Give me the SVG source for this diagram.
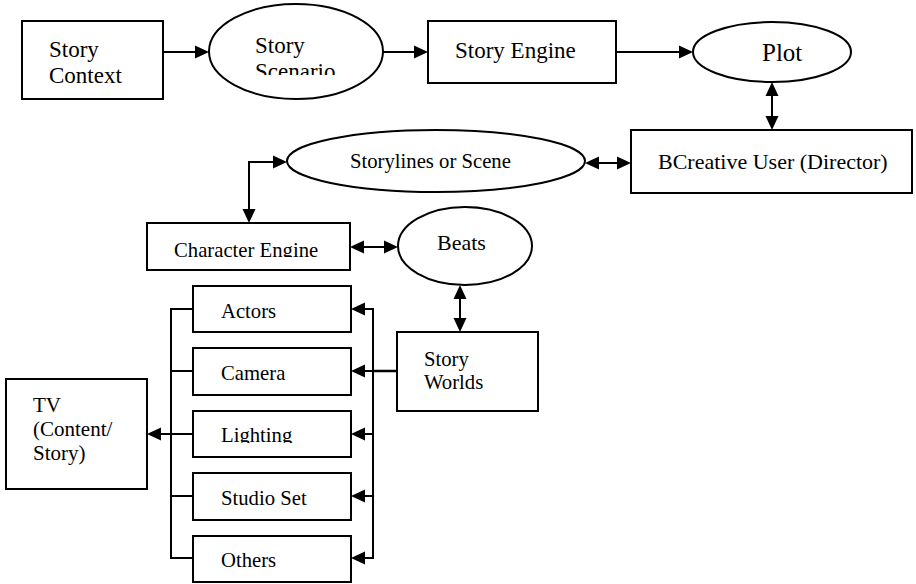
<svg xmlns="http://www.w3.org/2000/svg" width="916" height="584" viewBox="0 0 916 584">
<style>
.box{fill:#fff;stroke:#000;stroke-width:2}
.ell{fill:#fff;stroke:#000;stroke-width:2}
.lbl{font-family:"Liberation Serif",serif;fill:#000}
.ln{fill:none;stroke:#000;stroke-width:2}
.hd{fill:#000;stroke:none}
</style>
<defs>
<path id="arw" d="M0,0 L-14,-6.5 L-14,6.5 z"/>
<clipPath id="cScen"><rect x="200" y="0" width="200" height="75"/></clipPath>
<clipPath id="cChar"><rect x="140" y="220" width="220" height="37"/></clipPath>
<clipPath id="cLight"><rect x="190" y="405" width="170" height="38"/></clipPath>
</defs>

<g id="connectors">
<line class="ln" x1="163" y1="52" x2="203" y2="52"/>
<use class="hd" href="#arw" transform="translate(209,52)"/>
<line class="ln" x1="383" y1="52" x2="422" y2="52"/>
<use class="hd" href="#arw" transform="translate(428,52)"/>
<line class="ln" x1="616" y1="52" x2="687" y2="52"/>
<use class="hd" href="#arw" transform="translate(693,52)"/>
<line class="ln" x1="772" y1="88" x2="772" y2="124"/>
<use class="hd" href="#arw" transform="translate(772,82) rotate(-90)"/>
<use class="hd" href="#arw" transform="translate(772,130) rotate(90)"/>
<line class="ln" x1="591" y1="163" x2="625" y2="163"/>
<use class="hd" href="#arw" transform="translate(585,163) rotate(180)"/>
<use class="hd" href="#arw" transform="translate(631,163)"/>
<path class="ln" d="M281,162 H249 V217"/>
<use class="hd" href="#arw" transform="translate(287,162)"/>
<use class="hd" href="#arw" transform="translate(249,223) rotate(90)"/>
<line class="ln" x1="356" y1="247" x2="392" y2="247"/>
<use class="hd" href="#arw" transform="translate(350,247) rotate(180)"/>
<use class="hd" href="#arw" transform="translate(398,247)"/>
<line class="ln" x1="460" y1="291" x2="460" y2="326"/>
<use class="hd" href="#arw" transform="translate(460,285) rotate(-90)"/>
<use class="hd" href="#arw" transform="translate(460,332) rotate(90)"/>
<line class="ln" x1="397" y1="371" x2="373" y2="371" style="stroke-width:2.5"/>
<line class="ln" x1="373" y1="308" x2="373" y2="559"/>
<line class="ln" x1="373" y1="309" x2="357" y2="309"/>
<line class="ln" x1="373" y1="371" x2="357" y2="371"/>
<line class="ln" x1="373" y1="434" x2="357" y2="434"/>
<line class="ln" x1="373" y1="496" x2="357" y2="496"/>
<line class="ln" x1="373" y1="558" x2="357" y2="558"/>
<use class="hd" href="#arw" transform="translate(351,309) rotate(180)"/>
<use class="hd" href="#arw" transform="translate(351,371) rotate(180)"/>
<use class="hd" href="#arw" transform="translate(351,434) rotate(180)"/>
<use class="hd" href="#arw" transform="translate(351,496) rotate(180)"/>
<use class="hd" href="#arw" transform="translate(351,558) rotate(180)"/>
<line class="ln" x1="171" y1="308" x2="171" y2="559"/>
<line class="ln" x1="171" y1="309" x2="193" y2="309"/>
<line class="ln" x1="171" y1="371" x2="193" y2="371"/>
<line class="ln" x1="171" y1="434" x2="193" y2="434"/>
<line class="ln" x1="171" y1="496" x2="193" y2="496"/>
<line class="ln" x1="171" y1="558" x2="193" y2="558"/>
<line class="ln" x1="171" y1="434" x2="153" y2="434"/>
<use class="hd" href="#arw" transform="translate(147,434) rotate(180)"/>
</g>

<g id="story-context">
<rect class="box" x="22" y="21" width="141" height="78"/>
<text class="lbl" font-family="Liberation Serif, serif" x="49" y="57" font-size="23">Story</text>
<text class="lbl" font-family="Liberation Serif, serif" x="49" y="83" font-size="23">Context</text>
</g>
<g id="story-scenario">
<ellipse class="ell" cx="296" cy="51.5" rx="87" ry="47.5"/>
<text class="lbl" font-family="Liberation Serif, serif" x="255" y="53" font-size="23">Story</text>
<text class="lbl" font-family="Liberation Serif, serif" x="255" y="79" font-size="23" clip-path="url(#cScen)">Scenario</text>
</g>
<g id="story-engine">
<rect class="box" x="428" y="21" width="188" height="62"/>
<text class="lbl" font-family="Liberation Serif, serif" x="455" y="58" font-size="23">Story Engine</text>
</g>
<g id="plot">
<ellipse class="ell" cx="772" cy="52" rx="79" ry="30"/>
<text class="lbl" font-family="Liberation Serif, serif" x="762" y="61" font-size="25">Plot</text>
</g>
<g id="bcreative-user">
<rect class="box" x="631" y="130" width="281" height="63"/>
<text class="lbl" font-family="Liberation Serif, serif" x="658" y="169" font-size="22">BCreative User (Director)</text>
</g>
<g id="storylines">
<ellipse class="ell" cx="436" cy="161" rx="149" ry="31"/>
<text class="lbl" font-family="Liberation Serif, serif" x="350" y="168" font-size="20.7">Storylines or Scene</text>
</g>
<g id="character-engine">
<rect class="box" x="147" y="223" width="203" height="47"/>
<text class="lbl" font-family="Liberation Serif, serif" x="174" y="257" font-size="20.7" clip-path="url(#cChar)">Character Engine</text>
</g>
<g id="beats">
<ellipse class="ell" cx="465" cy="246" rx="67" ry="39"/>
<text class="lbl" font-family="Liberation Serif, serif" x="437" y="250" font-size="22">Beats</text>
</g>
<g id="story-worlds">
<rect class="box" x="397" y="332" width="141" height="79"/>
<text class="lbl" font-family="Liberation Serif, serif" x="424" y="366" font-size="20.7">Story</text>
<text class="lbl" font-family="Liberation Serif, serif" x="424" y="389" font-size="20.7">Worlds</text>
</g>
<g id="actors">
<rect class="box" x="193" y="286" width="158" height="46"/>
<text class="lbl" font-family="Liberation Serif, serif" x="221" y="318" font-size="20.7">Actors</text>
</g>
<g id="camera">
<rect class="box" x="193" y="348" width="158" height="47"/>
<text class="lbl" font-family="Liberation Serif, serif" x="221" y="380" font-size="20.7">Camera</text>
</g>
<g id="lighting">
<rect class="box" x="193" y="411" width="158" height="46"/>
<text class="lbl" font-family="Liberation Serif, serif" x="221" y="442" font-size="20.7" clip-path="url(#cLight)">Lighting</text>
</g>
<g id="studio-set">
<rect class="box" x="193" y="473" width="158" height="47"/>
<text class="lbl" font-family="Liberation Serif, serif" x="221" y="505" font-size="20.7">Studio Set</text>
</g>
<g id="others">
<rect class="box" x="193" y="536" width="158" height="46"/>
<text class="lbl" font-family="Liberation Serif, serif" x="221" y="567" font-size="20.7">Others</text>
</g>
<g id="tv">
<rect class="box" x="6" y="379" width="141" height="110"/>
<text class="lbl" font-family="Liberation Serif, serif" x="33" y="412" font-size="21">TV</text>
<text class="lbl" font-family="Liberation Serif, serif" x="33" y="436" font-size="21">(Content/</text>
<text class="lbl" font-family="Liberation Serif, serif" x="33" y="460" font-size="21">Story)</text>
</g>
</svg>
